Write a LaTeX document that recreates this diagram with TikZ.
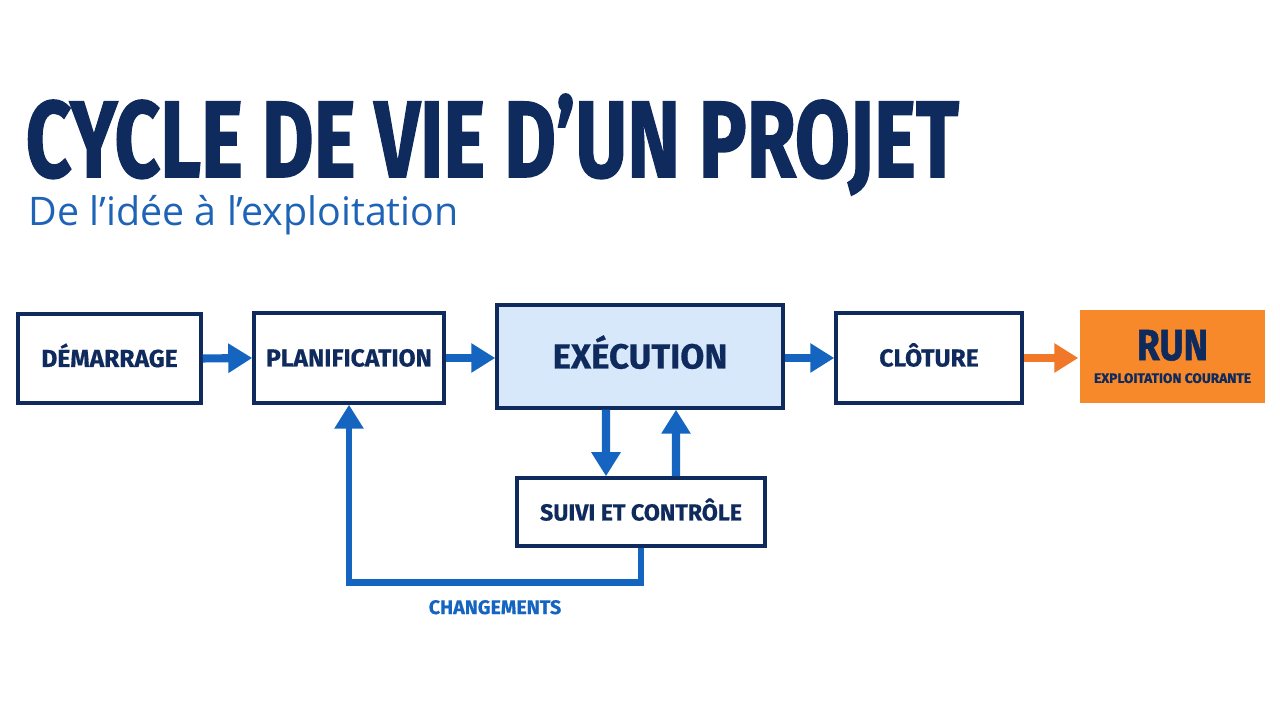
\documentclass[tikz,border=0pt]{standalone}
\usepackage{fontspec}
\usepackage{graphicx}
\setmainfont{Fira Sans}
\newfontfamily\subfont{Open Sans}
\usetikzlibrary{arrows.meta}

\definecolor{navy}{HTML}{0F2A5C}
\definecolor{flowblue}{HTML}{1565C0}
\definecolor{lightblue}{HTML}{D6E8FA}
\definecolor{runorange}{HTML}{F7892A}
\definecolor{arroworange}{HTML}{F07828}
\definecolor{subblue}{HTML}{1E63B5}

\newcommand{\heavy}{\bfseries\addfontfeatures{FakeBold=0.6}}

\begin{document}
\begin{tikzpicture}[
		box/.style={draw=navy, line width=1pt, fill=white, inner sep=0pt, text=navy},
		phase/.style={box, text height=0.17cm, text depth=0pt,
			font=\fontsize{7}{8}\selectfont\heavy},
		flow/.style={draw=flowblue, line width=2.3pt, -{Triangle[length=0.24cm, width=0.28cm]}},
		orangeflow/.style={flow, draw=arroworange, fill=arroworange}
	]
	\useasboundingbox (0,0) rectangle (12.8,7.2);
	
	\coordinate (P1) at (1.095, 3.615);
	\coordinate (P2) at (3.49, 3.62);
	\coordinate (P3) at (6.40, 3.635);
	\coordinate (P4) at (9.29, 3.62);
	\coordinate (P5) at (11.725, 3.635);
	\coordinate (P6) at (6.41, 2.08);
	
	\node[anchor=base west, inner sep=0pt, text=navy] (title) at (0.25, 5.43)
		{\raisebox{0pt}[\height][0pt]{\resizebox{9.33cm}{0.77cm}{\bfseries\addfontfeatures{FakeBold=1.5}CYCLE DE VIE D\smash{’}UN PROJET}}};
	\node[anchor=base west, inner sep=0pt, text=subblue] (subtitle) at (0.28, 4.94)
		{\resizebox{4.30cm}{!}{\subfont De l’idée à l’exploitation}};
	
	\node[phase, minimum width=1.83cm, minimum height=0.89cm] (dem) at (P1) {DÉMARRAGE};
	\node[phase, minimum width=1.90cm, minimum height=0.90cm] (plan) at (P2) {PLANIFICATION};
	\node[phase, fill=lightblue, minimum width=2.86cm, minimum height=1.03cm, text height=0.24cm,
		font=\fontsize{9.9}{11}\selectfont\heavy] (exec) at (P3) {EXÉCUTION};
	\node[phase, minimum width=1.86cm, minimum height=0.90cm] (clot) at (P4) {CLÔTURE};
	\node[box, draw=none, fill=runorange, minimum width=1.85cm, minimum height=0.93cm,
		align=center, font=\fontsize{3.9}{6.5}\selectfont\heavy] (run) at (P5)
		{\scalebox{0.85}[1]{\fontsize{12.4}{13}\selectfont\addfontfeatures{FakeBold=1.2}RUN}\\EXPLOITATION COURANTE};
	\node[phase, minimum width=2.48cm, minimum height=0.68cm,
		font=\fontsize{6.6}{8}\selectfont\heavy] (suivi) at (P6) {SUIVI ET CONTRÔLE};
	
	\draw[flow] (dem.east) -- (plan.west);
	\draw[flow] (plan.east) -- (plan.east -| exec.west);
	\draw[flow] (clot.west -| exec.east) -- (clot.west);
	\draw[orangeflow] (clot.east) -- (clot.east -| run.west);
	
	\draw[flow] ([xshift=-3.4mm]exec.south) -- ([xshift=-3.5mm]suivi.north);
	\draw[flow] ([xshift=3.5mm]suivi.north) -- ([xshift=3.6mm]exec.south);
	\draw[flow, line width=1.9pt] (suivi.south) -- ++(0,-0.35) -| (plan.south)
		node[pos=0.25, below=0.14cm, inner sep=0pt, text=flowblue,
			font=\fontsize{5.6}{6}\selectfont\heavy] (chg) {CHANGEMENTS};
\end{tikzpicture}
\end{document}
